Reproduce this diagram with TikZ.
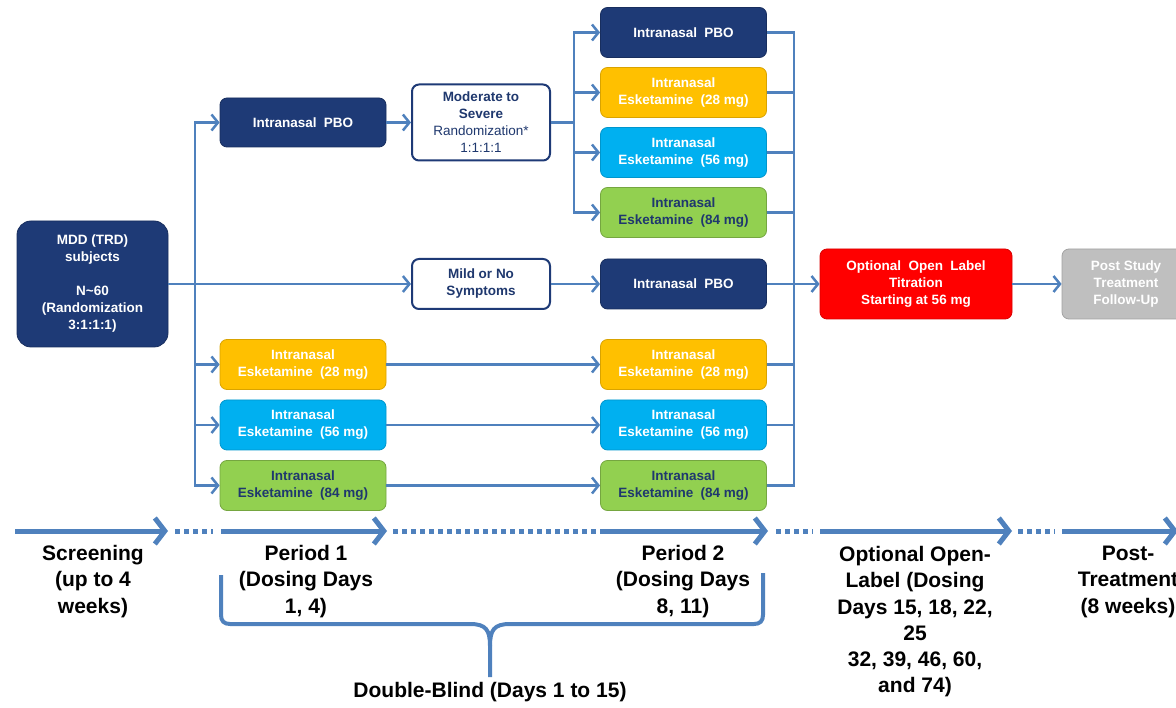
\documentclass[tikz,border=0pt]{standalone}
\usepackage{fontspec}
\setmainfont{Liberation Sans}
\usetikzlibrary{arrows.meta}

\definecolor{navy}{RGB}{30,58,118}
\definecolor{navytext}{RGB}{31,56,110}
\definecolor{linkblue}{RGB}{79,129,189}
\definecolor{dosegold}{RGB}{255,192,0}
\definecolor{dosecyan}{RGB}{0,176,240}
\definecolor{dosegreen}{RGB}{146,208,80}
\definecolor{openred}{RGB}{255,0,0}
\definecolor{fugray}{RGB}{191,191,191}

\newcommand{\wgap}{\hspace{0.55em}}

\begin{document}
\begin{tikzpicture}[x=1pt,y=-1pt,
  box/.style={rounded corners=7pt, align=center, inner sep=0pt, line width=0.8pt,
    font=\fontsize{13.5}{17}\selectfont\bfseries, text=white},
  armbox/.style={box, minimum width=166pt, minimum height=50pt},
  navyarm/.style={armbox, fill=navy, draw=navy!80!black},
  goldarm/.style={armbox, fill=dosegold, draw=dosegold!85!black},
  cyanarm/.style={armbox, fill=dosecyan, draw=dosecyan!85!black},
  greenarm/.style={armbox, fill=dosegreen, draw=dosegreen!80!black, text=navytext},
  choicebox/.style={box, minimum width=138pt, fill=white, draw=navy, line width=2pt, text=navytext},
  link/.style={draw=linkblue, line width=2.5pt, -{Straight Barb[length=6.5pt,width=16pt]}},
  plain/.style={draw=linkblue, line width=2.5pt},
  phase/.style={draw=linkblue, line width=5pt, -{Straight Barb[length=10pt,width=26pt]}},
  gapline/.style={draw=linkblue, line width=5pt, dash pattern=on 5pt off 4pt},
  bracket/.style={draw=linkblue, line width=4pt},
  phasetext/.style={font=\fontsize{21}{26.3}\selectfont\bfseries, align=center, anchor=north, inner sep=0pt}
]
\useasboundingbox (0,0) rectangle (1176,708);
\clip (0,0) rectangle (1176,708);

% ---------- subjects ----------
\node[box, fill=navy, draw=navy!80!black, rounded corners=14pt,
      minimum width=151pt, minimum height=126pt] (mdd) at (92.5,284)
  {MDD (TRD)\\subjects\\[17pt]N\textasciitilde60\\(Randomization\\3:1:1:1)};

% ---------- period 1 arms ----------
\node[navyarm, minimum height=49pt] (pboA) at (303,122.5) {Intranasal\wgap PBO};
\node[goldarm] (goldA) at (303,364.5) {Intranasal\\Esketamine\wgap(28 mg)};
\node[cyanarm] (cyanA) at (303,425) {Intranasal\\Esketamine\wgap(56 mg)};
\node[greenarm] (greenA) at (303,485.5) {Intranasal\\Esketamine\wgap(84 mg)};

% ---------- response split ----------
\node[choicebox, minimum height=76pt] (mod) at (481,122.5)
  {Moderate to\\Severe\\{\mdseries Randomization*}\\{\mdseries 1:1:1:1}};
\node[choicebox, minimum height=50pt] (mild) at (481,284) {Mild or No\\Symptoms};

% ---------- period 2 arms ----------
\node[navyarm] (pboB) at (683.5,32.5) {Intranasal\wgap PBO};
\node[goldarm] (goldB) at (683.5,92.5) {Intranasal\\Esketamine\wgap(28 mg)};
\node[cyanarm] (cyanB) at (683.5,152.5) {Intranasal\\Esketamine\wgap(56 mg)};
\node[greenarm] (greenB) at (683.5,212.5) {Intranasal\\Esketamine\wgap(84 mg)};
\node[navyarm] (pboC) at (683.5,284) {Intranasal\wgap PBO};
\node[goldarm] (goldC) at (683.5,364.5) {Intranasal\\Esketamine\wgap(28 mg)};
\node[cyanarm] (cyanC) at (683.5,425) {Intranasal\\Esketamine\wgap(56 mg)};
\node[greenarm] (greenC) at (683.5,485.5) {Intranasal\\Esketamine\wgap(84 mg)};

% ---------- open label and follow-up ----------
\node[box, fill=openred, draw=openred!85!black, minimum width=192pt, minimum height=70pt]
  (open) at (916,284) {Optional\wgap Open\wgap Label\\Titration\\Starting at 56 mg};
\node[box, fill=fugray, draw=fugray!85!black, minimum width=128pt, minimum height=70pt]
  (post) at (1126,284) {Post Study\\Treatment\\Follow-Up};

% ---------- connectors ----------
\coordinate (jL) at (195,284);
\draw[link] (mdd.east) -- (mild.west);
\draw[link] (jL) |- (pboA.west);
\draw[link] (jL) |- (goldA.west);
\draw[link] (jL) |- (cyanA.west);
\draw[link] (jL) |- (greenA.west);

\draw[link] (pboA.east) -- (mod.west);
\coordinate (jM) at (574,122.5);
\draw[plain] (mod.east) -- (jM);
\draw[link] (jM) |- (pboB.west);
\draw[link] (jM) |- (goldB.west);
\draw[link] (jM) |- (cyanB.west);
\draw[link] (jM) |- (greenB.west);

\draw[link] (mild.east) -- (pboC.west);
\draw[link] (goldA.east) -- (goldC.west);
\draw[link] (cyanA.east) -- (cyanC.west);
\draw[link] (greenA.east) -- (greenC.west);

\coordinate (jR) at (794,284);
\foreach \n in {pboB,goldB,cyanB,greenB,pboC,goldC,cyanC,greenC}
  \draw[plain] (\n.east) -| (jR);
\draw[link] (jR) -- (open.west);
\draw[link] (open.east) -- (post.west);

% ---------- timeline ----------
\coordinate (s0) at (15,531);   \coordinate (s1) at (168,531);
\coordinate (g1a) at (175,531); \coordinate (g1b) at (213,531);
\coordinate (p0) at (221,531);  \coordinate (p1) at (387,531);
\coordinate (g2a) at (393,531); \coordinate (g2b) at (600,531);
\coordinate (q0) at (600,531);  \coordinate (q1) at (768,531);
\coordinate (g3a) at (776,531); \coordinate (g3b) at (813,531);
\coordinate (o0) at (820,531);  \coordinate (o1) at (1012,531);
\coordinate (g4a) at (1018,531);\coordinate (g4b) at (1055,531);
\coordinate (f0) at (1062,531); \coordinate (f1) at (1178,531);

\draw[phase] (s0) -- (s1);
\draw[gapline] (g1a) -- (g1b);
\draw[phase] (p0) -- (p1);
\draw[gapline] (g2a) -- (g2b);
\draw[phase] (q0) -- (q1);
\draw[gapline] (g3a) -- (g3b);
\draw[phase] (o0) -- (o1);
\draw[gapline] (g4a) -- (g4b);
\draw[phase] (f0) -- (f1);

\node[phasetext] (tScr) at (93,545) {Screening\\(up to 4\\weeks)};
\node[phasetext] (tP1) at (306,545) {Period 1\\(Dosing Days\\1, 4)};
\node[phasetext] (tP2) at (683,545) {Period 2\\(Dosing Days\\8, 11)};
\node[phasetext] (tOL) at (915,546) {Optional Open-\\Label (Dosing\\Days 15, 18, 22,\\25\\32, 39, 46, 60,\\and 74)};
\node[phasetext] (tFU) at (1128,546) {Post-\\Treatment\\(8 weeks)};

% ---------- double-blind bracket ----------
\draw[bracket] (221,575) -- (221,615) .. controls (221,621) and (224,624) .. (230,624)
  -- (470,624) .. controls (486,624) and (490,630) .. (490,646) -- (490,677);
\draw[bracket] (763,573) -- (763,615) .. controls (763,621) and (760,624) .. (754,624)
  -- (510,624) .. controls (494,624) and (490,630) .. (490,646);
\node[phasetext, anchor=center] (tDB) at (490,692) {Double-Blind (Days 1 to 15)};

\end{tikzpicture}
\end{document}
